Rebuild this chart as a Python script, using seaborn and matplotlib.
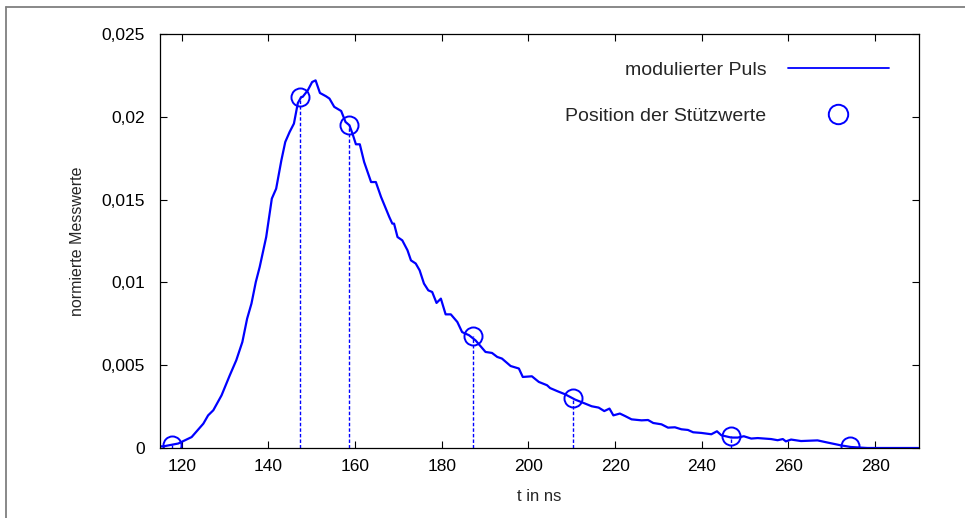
import matplotlib
matplotlib.use("Agg")
import matplotlib.pyplot as plt
import seaborn as sns
import pandas as pd
from matplotlib.lines import Line2D
from matplotlib.ticker import FixedLocator, FuncFormatter

# ---- data ----
t_ns = [115.0, 115.8, 119.2, 122.3, 125.0, 126.1, 127.3, 129.2, 131.1, 132.6, 134.0, 135.1, 136.1,
        137.1, 138.0, 139.5, 140.8, 141.8, 143.0, 143.9, 144.9, 145.9, 146.8, 147.6, 147.9,
        149.1, 150.1, 150.9, 151.9, 153.3, 154.1, 155.2, 156.8, 157.8, 158.7, 159.4, 160.2,
        161.1, 162.1, 163.7, 164.8, 166.0, 167.1, 167.9, 168.6, 169.0, 169.8, 170.9, 171.7,
        172.1, 172.9, 174.0, 174.9, 175.9, 176.9, 177.8, 178.8, 179.8, 180.9, 182.1, 183.6,
        184.7, 186.3, 187.8, 190.1, 191.6, 192.8, 193.9, 195.9, 197.8, 198.7, 200.8, 202.4,
        204.3, 205.0, 206.6, 208.5, 210.8, 213.1, 214.6, 216.2, 217.5, 218.7, 219.6, 221.1,
        222.3, 223.8, 226.1, 227.6, 228.8, 230.7, 232.2, 233.8, 235.3, 236.8, 238.0, 239.9,
        242.2, 243.5, 244.5, 246.8, 248.3, 249.7, 251.4, 252.9, 256.0, 257.5, 258.7, 259.4,
        260.6, 262.9, 266.7, 269.0, 272.1, 274.4, 278.2, 281.3, 290.0]
puls = [0.00010, 0.00010, 0.00027, 0.00066, 0.00147, 0.00197, 0.00228, 0.00318, 0.00439, 0.00530,
        0.00640, 0.00781, 0.00872, 0.01002, 0.01093, 0.01274, 0.01506, 0.01566, 0.01737, 0.01848,
        0.01908, 0.01959, 0.02083, 0.02120, 0.02120, 0.02160, 0.02210, 0.02220, 0.02144, 0.02124,
        0.02110, 0.02060, 0.02035, 0.01969, 0.01949, 0.01899, 0.01834, 0.01834, 0.01727, 0.01606,
        0.01606, 0.01516, 0.01446, 0.01395, 0.01355, 0.01355, 0.01274, 0.01254, 0.01214, 0.01194,
        0.01133, 0.01114, 0.01073, 0.00993, 0.00952, 0.00942, 0.00876, 0.00902, 0.00807, 0.00807,
        0.00761, 0.00700, 0.00681, 0.00650, 0.00580, 0.00574, 0.00550, 0.00540, 0.00495, 0.00480,
        0.00429, 0.00433, 0.00399, 0.00379, 0.00362, 0.00344, 0.00324, 0.00292, 0.00268, 0.00252,
        0.00244, 0.00223, 0.00238, 0.00197, 0.00208, 0.00193, 0.00173, 0.00167, 0.00169, 0.00151,
        0.00143, 0.00123, 0.00125, 0.00113, 0.00109, 0.00095, 0.00091, 0.00083, 0.00101, 0.00077,
        0.00063, 0.00063, 0.00071, 0.00057, 0.00060, 0.00054, 0.00047, 0.00054, 0.00040, 0.00051,
        0.00042, 0.00046, 0.00033, 0.00016, 0.00006, 0.00000, 0.00000, 0.00000]

stuetz_t = [117.8, 147.2, 158.7, 187.2, 210.4, 246.7, 274.3]
stuetz_y = [0.00018, 0.02120, 0.01950, 0.00676, 0.00300, 0.00072, 0.00012]

x_ticks = [120, 140, 160, 180, 200, 220, 240, 260, 280]
y_ticks = [0, 0.005, 0.01, 0.015, 0.02, 0.025]

label_curve = "modulierter Puls"
label_points = "Position der Stützwerte"
x_label = "t in ns"
y_label = "normierte Messwerte"

# ---- style ----
sns.set_theme(style="white")
plt.rcParams["font.family"] = ["Liberation Sans", "DejaVu Sans"]
plt.rcParams["axes.edgecolor"] = "black"
plt.rcParams["axes.linewidth"] = 0.9

fig = plt.figure(figsize=(9.65, 5.18), dpi=100)
ax = fig.add_axes([160 / 965, 1 - 448 / 518, (918.5 - 160) / 965, (448 - 34) / 518])

df_curve = pd.DataFrame({"t": t_ns, "y": puls})
df_pts = pd.DataFrame({"t": stuetz_t, "y": stuetz_y})

blue = "#0000ff"

# impulses (dashed verticals) from the support points
ax.vlines(df_pts["t"], 0, df_pts["y"], colors=blue, linestyles=(0, (2.5, 1.5)), linewidth=1.0)

sns.lineplot(data=df_curve, x="t", y="y", ax=ax, color=blue, linewidth=1.6,
             label=label_curve, sort=False)
sns.lineplot(data=df_pts, x="t", y="y", ax=ax, color=blue, linestyle="none", marker="o",
             markersize=13, markerfacecolor="none", markeredgecolor=blue,
             markeredgewidth=1.4, label=label_points)

ax.set_xlim(115, 290)
ax.set_ylim(0, 0.025)
ax.xaxis.set_major_locator(FixedLocator(x_ticks))
ax.yaxis.set_major_locator(FixedLocator(y_ticks))
ax.yaxis.set_major_formatter(FuncFormatter(lambda v, p: ("%g" % v).replace(".", ",")))
ax.xaxis.set_major_formatter(FuncFormatter(lambda v, p: "%d" % v))
ax.tick_params(direction="in", length=5, width=0.8, top=True, right=True,
               bottom=True, left=True, labelsize=12.5, colors="black", pad=8)
ax.tick_params(axis="y", pad=11)
for s in ax.spines.values():
    s.set_visible(True)
    s.set_color("black")

ax.set_xlabel(x_label, fontsize=12, labelpad=11)
ax.set_ylabel(y_label, fontsize=11.5, labelpad=12)

handles = [Line2D([], [], color=blue, linewidth=1.3),
           Line2D([], [], color=blue, linestyle="none", marker="o", markersize=14,
                  markerfacecolor="none", markeredgewidth=1.4)]
leg = ax.legend(handles, [label_curve, label_points], loc="upper right",
                bbox_to_anchor=(0.971, 0.952), frameon=False, markerfirst=False,
                fontsize=14, handlelength=5.2, handletextpad=1.1, labelspacing=1.45,
                numpoints=1, borderaxespad=0)

# outer frame of the screenshot (left and top edges)
fig.add_artist(Line2D([5.5 / 965, 5.5 / 965], [0, 1 - 7 / 518], transform=fig.transFigure,
                      color="#7f7f7f", linewidth=1.3))
fig.add_artist(Line2D([5.5 / 965, 1], [1 - 7 / 518, 1 - 7 / 518], transform=fig.transFigure,
                      color="#7f7f7f", linewidth=1.3))

fig.savefig("out.png", dpi=100)
